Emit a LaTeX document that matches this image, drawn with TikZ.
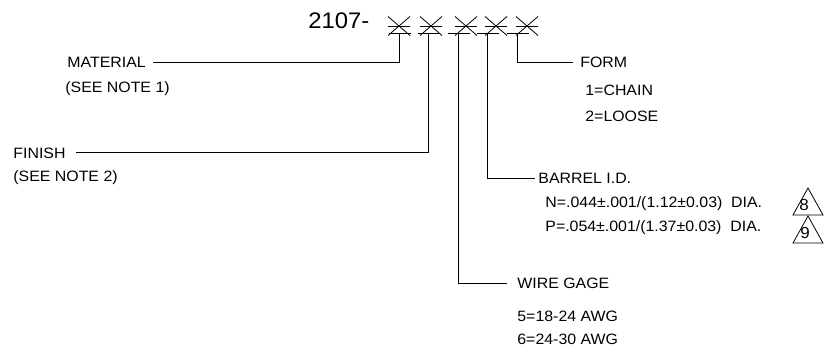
\documentclass[tikz,border=0pt]{standalone}
\usepackage{fontspec}
\setmainfont[FakeStretch=1.06]{Liberation Sans}
\begin{document}
\begin{tikzpicture}[x=1pt,y=-1pt,line width=0.8pt,
  lbl/.style={inner sep=0pt,anchor=base west,font=\fontsize{15}{17}\selectfont},
  tri/.style={line width=0.8pt,line join=miter},
  trinum/.style={inner sep=0pt,font=\fontsize{16}{18}\selectfont}]
\useasboundingbox[fill=white] (0,0) rectangle (824,353);
% part number
\node[inner sep=0pt,anchor=base west,font=\fontsize{22.5}{24}\selectfont] (code) at (308,28.5) {2107-};
% placeholder marks
\foreach \v/\c [count=\i] in {399/399,428/431,458/466,487/496,517/527}{
  \coordinate (u\i) at (\v,33.5);
  \draw (\c-11,16.5) -- (\c+11,35.5);
  \draw (\c-11,35.5) -- (\c+11,16.5);
  \draw (\c-11,26) -- (\c+11,26);
  \draw (\v-10,33.5) -- (\v+12,33.5);
}
% labels
\node[lbl] (material) at (67,67.8) {MATERIAL};
\node[lbl] (note1) at (65,92.5) {(SEE NOTE 1)};
\node[lbl] (finish) at (13,158) {FINISH};
\node[lbl] (note2) at (13,181.5) {(SEE NOTE 2)};
\node[lbl] (form) at (580,67.5) {FORM};
\node[lbl] (chain) at (585,95.5) {1=CHAIN};
\node[lbl] (loose) at (585,121.5) {2=LOOSE};
\node[lbl] (barrel) at (538,183.5) {BARREL I.D.};
\node[lbl] (nsize) at (545,207.5) {N=.044±.001/(1.12±0.03)\ \ DIA.};
\node[lbl] (psize) at (545,231.5) {P=.054±.001/(1.37±0.03)\ \ DIA.};
\node[lbl] (wire) at (517,288.8) {WIRE GAGE};
\node[lbl] (g5) at (517,321.5) {5=18-24 AWG};
\node[lbl] (g6) at (517,344.5) {6=24-30 AWG};
% leaders
\draw (u1) |- ([xshift=7pt]material.east);
\draw (u2) |- ([xshift=10pt]finish.east);
\draw (u3) |- ([xshift=-10pt]wire.west);
\draw (u4) |- ([xshift=-3pt]barrel.west);
\draw (u5) |- ([xshift=-7pt]form.west);
% note triangles
\draw[tri] (793,215) -- (808,188) -- (823,215) -- cycle;
\node[trinum] (n8) at (804,204.5) {8};
\draw[tri] (793,243) -- (808,216) -- (823,243) -- cycle;
\node[trinum] (n9) at (805,233) {9};
\end{tikzpicture}
\end{document}
